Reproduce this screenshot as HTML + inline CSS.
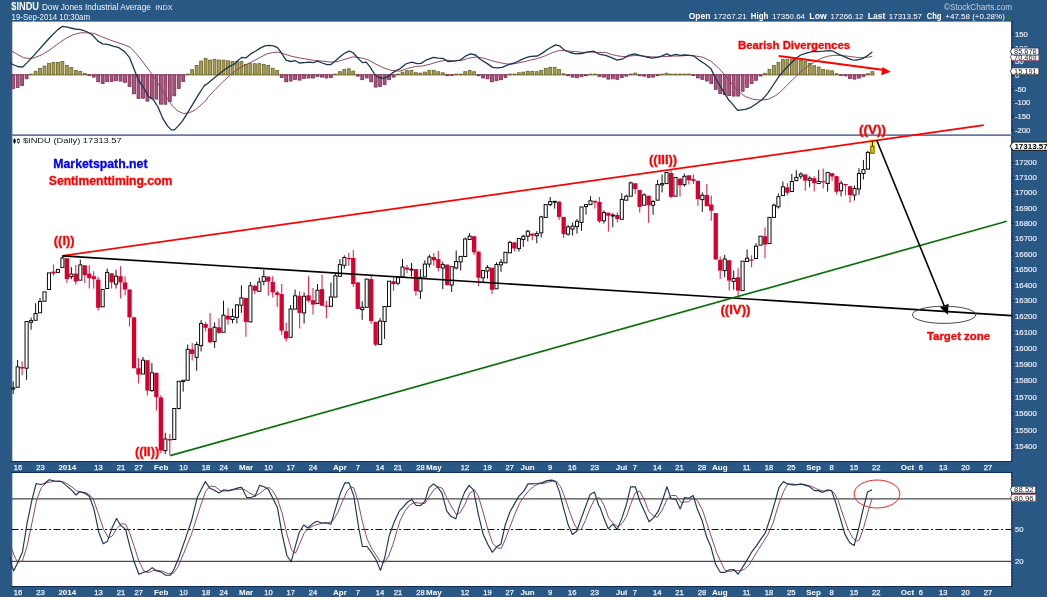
<!DOCTYPE html><html><head><meta charset="utf-8"><title>$INDU</title><style>html,body{margin:0;padding:0;background:#2a5885}svg{display:block;will-change:transform}text{font-family:"Liberation Sans",sans-serif}</style></head><body>
<svg width="1047" height="597" viewBox="0 0 1047 597">
<rect width="1047" height="597" fill="#2a5885"/>
<rect x="11.5" y="21" width="1000" height="440" fill="#fff"/>
<rect x="11.5" y="473" width="1000" height="113" fill="#fff"/>
<g stroke="#1b3c6c" stroke-width="1" fill="none">
<path d="M11.5 461.6H1012"/><path d="M11.5 472.4H1012"/><path d="M11.5 586.5H1012"/>
<path d="M1011.9 21V461.5"/><path d="M1011.9 472.5V586.5"/><path d="M11.8 21V461.5"/><path d="M11.8 472.5V586.5"/>
</g>
<g stroke="#0c1f4a" stroke-width="1" stroke-dasharray="2 1.2" fill="none" opacity="0.85">
<path d="M11.5 461.6H1012"/><path d="M11.5 472.4H1012"/><path d="M11.5 586.5H1012"/>
<path d="M1011.9 21V461.5"/><path d="M1011.9 472.5V586.5"/>
</g>
<path d="M11.5 21.3H1012" stroke="#203a66" stroke-width="1" opacity="0.7"/>
<path d="M11.5 135.2H1012" stroke="#68789e" stroke-width="1.7"/>
<text x="11.3" y="10.1" font-size="11" fill="#fff" font-weight="bold" textLength="27.7" lengthAdjust="spacingAndGlyphs">$INDU</text>
<text x="41.9" y="9.9" font-size="9.1" fill="#f0f4fa" textLength="109" lengthAdjust="spacingAndGlyphs">Dow Jones Industrial Average</text>
<text x="155.2" y="9.9" font-size="7.6" fill="#e6ecf5" textLength="17.5" lengthAdjust="spacingAndGlyphs">INDX</text>
<text x="11.6" y="19.6" font-size="8.5" fill="#f0f4fa" textLength="78.4" lengthAdjust="spacingAndGlyphs">19-Sep-2014 10:30am</text>
<text x="944" y="10" font-size="8.3" fill="#c3cfe0" textLength="68" lengthAdjust="spacingAndGlyphs">©StockCharts.com</text>
<text x="688.8" y="18.9" font-size="8.6" fill="#fff" font-weight="bold" textLength="21.5" lengthAdjust="spacingAndGlyphs">Open</text>
<text x="713.5" y="18.9" font-size="7.7" fill="#fff" textLength="33.1" lengthAdjust="spacingAndGlyphs">17267.21</text>
<text x="750.8" y="18.9" font-size="8.6" fill="#fff" font-weight="bold" textLength="17.5" lengthAdjust="spacingAndGlyphs">High</text>
<text x="771.9" y="18.9" font-size="7.7" fill="#fff" textLength="33.1" lengthAdjust="spacingAndGlyphs">17350.64</text>
<text x="809.3" y="18.9" font-size="8.6" fill="#fff" font-weight="bold" textLength="17.5" lengthAdjust="spacingAndGlyphs">Low</text>
<text x="830.4" y="18.9" font-size="7.7" fill="#fff" textLength="33.1" lengthAdjust="spacingAndGlyphs">17266.12</text>
<text x="867.7" y="18.9" font-size="8.6" fill="#fff" font-weight="bold" textLength="17.6" lengthAdjust="spacingAndGlyphs">Last</text>
<text x="888.8" y="18.9" font-size="7.7" fill="#fff" textLength="33.2" lengthAdjust="spacingAndGlyphs">17313.57</text>
<text x="926.8" y="18.9" font-size="8.6" fill="#fff" font-weight="bold" textLength="14.7" lengthAdjust="spacingAndGlyphs">Chg</text>
<text x="945.3" y="18.9" font-size="7.7" fill="#fff" textLength="59.5" lengthAdjust="spacingAndGlyphs">+47.58 (+0.28%)</text>
<path d="M1006.5 18.6L1009 14.8L1011.5 18.6Z" fill="#1e7a1e"/>
<path d="M1011.5 34.2H1013.5" stroke="#0c1f4a" stroke-width="1"/>
<text x="1015" y="37.0" font-size="7.7" fill="#e4eaf4" stroke="#e4eaf4" stroke-width="0.2">150</text>
<path d="M1011.5 47.9H1013.5" stroke="#0c1f4a" stroke-width="1"/>
<text x="1015" y="50.7" font-size="7.7" fill="#e4eaf4" stroke="#e4eaf4" stroke-width="0.2">100</text>
<path d="M1011.5 61.6H1013.5" stroke="#0c1f4a" stroke-width="1"/>
<text x="1015" y="64.4" font-size="7.7" fill="#e4eaf4" stroke="#e4eaf4" stroke-width="0.2">50</text>
<path d="M1011.5 75.2H1013.5" stroke="#0c1f4a" stroke-width="1"/>
<text x="1015" y="78.0" font-size="7.7" fill="#e4eaf4" stroke="#e4eaf4" stroke-width="0.2">0</text>
<path d="M1011.5 88.9H1013.5" stroke="#0c1f4a" stroke-width="1"/>
<text x="1015" y="91.7" font-size="7.7" fill="#e4eaf4" stroke="#e4eaf4" stroke-width="0.2">-50</text>
<path d="M1011.5 102.5H1013.5" stroke="#0c1f4a" stroke-width="1"/>
<text x="1015" y="105.3" font-size="7.7" fill="#e4eaf4" stroke="#e4eaf4" stroke-width="0.2">-100</text>
<path d="M1011.5 116.2H1013.5" stroke="#0c1f4a" stroke-width="1"/>
<text x="1015" y="119.0" font-size="7.7" fill="#e4eaf4" stroke="#e4eaf4" stroke-width="0.2">-150</text>
<path d="M1011.5 129.8H1013.5" stroke="#0c1f4a" stroke-width="1"/>
<text x="1015" y="132.6" font-size="7.7" fill="#e4eaf4" stroke="#e4eaf4" stroke-width="0.2">-200</text>
<path d="M1010.3 57.0L1012.3 53.5H1038.9V60.5H1012.3Z" fill="#fff" stroke="#a0506e" stroke-width="0.9"/>
<text x="1014.0999999999999" y="59.6" font-size="7.3" fill="#1a1a1a" textLength="22.6" lengthAdjust="spacingAndGlyphs">70.469</text>
<path d="M1010.3 51.5L1012.3 48.0H1038.9V55.0H1012.3Z" fill="#fff" stroke="#1a3654" stroke-width="0.9"/>
<text x="1014.0999999999999" y="54.1" font-size="7.3" fill="#1a1a1a" textLength="22.6" lengthAdjust="spacingAndGlyphs">85.676</text>
<path d="M1010.3 71.3L1012.3 67.8H1038.9V74.8H1012.3Z" fill="#fff" stroke="#333" stroke-width="0.9"/>
<text x="1014.0999999999999" y="73.9" font-size="7.3" fill="#1a1a1a" textLength="22.6" lengthAdjust="spacingAndGlyphs">15.191</text>
<path d="M1011.5 162.6H1013.5" stroke="#0c1f4a" stroke-width="1"/>
<text x="1015" y="165.4" font-size="7.7" fill="#e4eaf4" textLength="21.8" lengthAdjust="spacingAndGlyphs" stroke="#e4eaf4" stroke-width="0.2">17200</text>
<path d="M1011.5 177.6H1013.5" stroke="#0c1f4a" stroke-width="1"/>
<text x="1015" y="180.4" font-size="7.7" fill="#e4eaf4" textLength="21.8" lengthAdjust="spacingAndGlyphs" stroke="#e4eaf4" stroke-width="0.2">17100</text>
<path d="M1011.5 192.6H1013.5" stroke="#0c1f4a" stroke-width="1"/>
<text x="1015" y="195.4" font-size="7.7" fill="#e4eaf4" textLength="21.8" lengthAdjust="spacingAndGlyphs" stroke="#e4eaf4" stroke-width="0.2">17000</text>
<path d="M1011.5 207.8H1013.5" stroke="#0c1f4a" stroke-width="1"/>
<text x="1015" y="210.6" font-size="7.7" fill="#e4eaf4" textLength="21.8" lengthAdjust="spacingAndGlyphs" stroke="#e4eaf4" stroke-width="0.2">16900</text>
<path d="M1011.5 223.0H1013.5" stroke="#0c1f4a" stroke-width="1"/>
<text x="1015" y="225.8" font-size="7.7" fill="#e4eaf4" textLength="21.8" lengthAdjust="spacingAndGlyphs" stroke="#e4eaf4" stroke-width="0.2">16800</text>
<path d="M1011.5 238.3H1013.5" stroke="#0c1f4a" stroke-width="1"/>
<text x="1015" y="241.1" font-size="7.7" fill="#e4eaf4" textLength="21.8" lengthAdjust="spacingAndGlyphs" stroke="#e4eaf4" stroke-width="0.2">16700</text>
<path d="M1011.5 253.8H1013.5" stroke="#0c1f4a" stroke-width="1"/>
<text x="1015" y="256.6" font-size="7.7" fill="#e4eaf4" textLength="21.8" lengthAdjust="spacingAndGlyphs" stroke="#e4eaf4" stroke-width="0.2">16600</text>
<path d="M1011.5 269.3H1013.5" stroke="#0c1f4a" stroke-width="1"/>
<text x="1015" y="272.1" font-size="7.7" fill="#e4eaf4" textLength="21.8" lengthAdjust="spacingAndGlyphs" stroke="#e4eaf4" stroke-width="0.2">16500</text>
<path d="M1011.5 284.9H1013.5" stroke="#0c1f4a" stroke-width="1"/>
<text x="1015" y="287.7" font-size="7.7" fill="#e4eaf4" textLength="21.8" lengthAdjust="spacingAndGlyphs" stroke="#e4eaf4" stroke-width="0.2">16400</text>
<path d="M1011.5 300.6H1013.5" stroke="#0c1f4a" stroke-width="1"/>
<text x="1015" y="303.4" font-size="7.7" fill="#e4eaf4" textLength="21.8" lengthAdjust="spacingAndGlyphs" stroke="#e4eaf4" stroke-width="0.2">16300</text>
<path d="M1011.5 316.4H1013.5" stroke="#0c1f4a" stroke-width="1"/>
<text x="1015" y="319.2" font-size="7.7" fill="#e4eaf4" textLength="21.8" lengthAdjust="spacingAndGlyphs" stroke="#e4eaf4" stroke-width="0.2">16200</text>
<path d="M1011.5 332.3H1013.5" stroke="#0c1f4a" stroke-width="1"/>
<text x="1015" y="335.1" font-size="7.7" fill="#e4eaf4" textLength="21.8" lengthAdjust="spacingAndGlyphs" stroke="#e4eaf4" stroke-width="0.2">16100</text>
<path d="M1011.5 348.3H1013.5" stroke="#0c1f4a" stroke-width="1"/>
<text x="1015" y="351.1" font-size="7.7" fill="#e4eaf4" textLength="21.8" lengthAdjust="spacingAndGlyphs" stroke="#e4eaf4" stroke-width="0.2">16000</text>
<path d="M1011.5 364.4H1013.5" stroke="#0c1f4a" stroke-width="1"/>
<text x="1015" y="367.2" font-size="7.7" fill="#e4eaf4" textLength="21.8" lengthAdjust="spacingAndGlyphs" stroke="#e4eaf4" stroke-width="0.2">15900</text>
<path d="M1011.5 380.6H1013.5" stroke="#0c1f4a" stroke-width="1"/>
<text x="1015" y="383.4" font-size="7.7" fill="#e4eaf4" textLength="21.8" lengthAdjust="spacingAndGlyphs" stroke="#e4eaf4" stroke-width="0.2">15800</text>
<path d="M1011.5 396.9H1013.5" stroke="#0c1f4a" stroke-width="1"/>
<text x="1015" y="399.7" font-size="7.7" fill="#e4eaf4" textLength="21.8" lengthAdjust="spacingAndGlyphs" stroke="#e4eaf4" stroke-width="0.2">15700</text>
<path d="M1011.5 413.3H1013.5" stroke="#0c1f4a" stroke-width="1"/>
<text x="1015" y="416.1" font-size="7.7" fill="#e4eaf4" textLength="21.8" lengthAdjust="spacingAndGlyphs" stroke="#e4eaf4" stroke-width="0.2">15600</text>
<path d="M1011.5 429.8H1013.5" stroke="#0c1f4a" stroke-width="1"/>
<text x="1015" y="432.6" font-size="7.7" fill="#e4eaf4" textLength="21.8" lengthAdjust="spacingAndGlyphs" stroke="#e4eaf4" stroke-width="0.2">15500</text>
<path d="M1011.5 446.4H1013.5" stroke="#0c1f4a" stroke-width="1"/>
<text x="1015" y="449.2" font-size="7.7" fill="#e4eaf4" textLength="21.8" lengthAdjust="spacingAndGlyphs" stroke="#e4eaf4" stroke-width="0.2">15400</text>
<path d="M1010 146.2L1013 142H1048V150.3H1013Z" fill="#fff" stroke="#111" stroke-width="1"/>
<text x="1014.4" y="148.9" font-size="8" fill="#000" font-weight="bold">17313.57</text>
<text x="1015" y="532.3" font-size="7.7" fill="#e4eaf4" stroke="#e4eaf4" stroke-width="0.2">50</text>
<text x="1015" y="564.0999999999999" font-size="7.7" fill="#e4eaf4" stroke="#e4eaf4" stroke-width="0.2">20</text>
<path d="M1010.3 497.9L1012.3 494.4H1035.8V501.3H1012.3Z" fill="#fff" stroke="#a0506e" stroke-width="0.9"/>
<text x="1014.0999999999999" y="500.5" font-size="7.3" fill="#1a1a1a" textLength="19.5" lengthAdjust="spacingAndGlyphs">80.96</text>
<path d="M1010.3 489.7L1012.3 486.2H1035.8V493.1H1012.3Z" fill="#fff" stroke="#1a3654" stroke-width="0.9"/>
<text x="1014.0999999999999" y="492.3" font-size="7.3" fill="#1a1a1a" textLength="19.5" lengthAdjust="spacingAndGlyphs">88.52</text>
<g fill="#a59c55" stroke="#6a6426" stroke-width="0.8"><path d="M28.78 74.8h4.6" fill="none"/><rect x="29.63" y="74.1" width="2.9" height="0.7"/><path d="M33.25 74.8h4.6" fill="none"/><rect x="34.10" y="71.3" width="2.9" height="3.5"/><path d="M37.73 74.8h4.6" fill="none"/><rect x="38.58" y="68.4" width="2.9" height="6.4"/><path d="M42.20 74.8h4.6" fill="none"/><rect x="43.05" y="66.1" width="2.9" height="8.7"/><path d="M46.68 74.8h4.6" fill="none"/><rect x="47.53" y="63.3" width="2.9" height="11.5"/><path d="M51.15 74.8h4.6" fill="none"/><rect x="52.00" y="62.4" width="2.9" height="12.4"/><path d="M55.63 74.8h4.6" fill="none"/><rect x="56.48" y="62.4" width="2.9" height="12.4"/><path d="M60.10 74.8h4.6" fill="none"/><rect x="60.95" y="61.4" width="2.9" height="13.4"/><path d="M64.58 74.8h4.6" fill="none"/><rect x="65.43" y="65.4" width="2.9" height="9.4"/><path d="M69.05 74.8h4.6" fill="none"/><rect x="69.90" y="67.4" width="2.9" height="7.4"/><path d="M73.53 74.8h4.6" fill="none"/><rect x="74.38" y="70.4" width="2.9" height="4.4"/><path d="M78.00 74.8h4.6" fill="none"/><rect x="78.85" y="71.3" width="2.9" height="3.5"/><path d="M82.48 74.8h4.6" fill="none"/><rect x="83.33" y="73.5" width="2.9" height="1.3"/><path d="M185.40 74.8h4.6" fill="none"/><rect x="186.25" y="74.1" width="2.9" height="0.7"/><path d="M189.88 74.8h4.6" fill="none"/><rect x="190.73" y="69.7" width="2.9" height="5.1"/><path d="M194.35 74.8h4.6" fill="none"/><rect x="195.20" y="65.4" width="2.9" height="9.4"/><path d="M198.83 74.8h4.6" fill="none"/><rect x="199.68" y="61.0" width="2.9" height="13.8"/><path d="M203.30 74.8h4.6" fill="none"/><rect x="204.15" y="58.4" width="2.9" height="16.4"/><path d="M207.78 74.8h4.6" fill="none"/><rect x="208.63" y="60.1" width="2.9" height="14.7"/><path d="M212.25 74.8h4.6" fill="none"/><rect x="213.10" y="59.3" width="2.9" height="15.5"/><path d="M216.73 74.8h4.6" fill="none"/><rect x="217.58" y="60.1" width="2.9" height="14.7"/><path d="M221.20 74.8h4.6" fill="none"/><rect x="222.05" y="60.1" width="2.9" height="14.7"/><path d="M225.68 74.8h4.6" fill="none"/><rect x="226.53" y="60.8" width="2.9" height="14.0"/><path d="M230.15 74.8h4.6" fill="none"/><rect x="231.00" y="61.3" width="2.9" height="13.5"/><path d="M234.63 74.8h4.6" fill="none"/><rect x="235.48" y="61.7" width="2.9" height="13.1"/><path d="M239.11 74.8h4.6" fill="none"/><rect x="239.96" y="61.4" width="2.9" height="13.4"/><path d="M243.58 74.8h4.6" fill="none"/><rect x="244.43" y="64.4" width="2.9" height="10.4"/><path d="M248.06 74.8h4.6" fill="none"/><rect x="248.91" y="63.7" width="2.9" height="11.1"/><path d="M252.53 74.8h4.6" fill="none"/><rect x="253.38" y="63.7" width="2.9" height="11.1"/><path d="M257.01 74.8h4.6" fill="none"/><rect x="257.86" y="63.7" width="2.9" height="11.1"/><path d="M261.48 74.8h4.6" fill="none"/><rect x="262.33" y="64.4" width="2.9" height="10.4"/><path d="M265.96 74.8h4.6" fill="none"/><rect x="266.81" y="65.4" width="2.9" height="9.4"/><path d="M270.43 74.8h4.6" fill="none"/><rect x="271.28" y="68.2" width="2.9" height="6.6"/><path d="M274.91 74.8h4.6" fill="none"/><rect x="275.76" y="70.4" width="2.9" height="4.4"/><path d="M333.08 74.8h4.6" fill="none"/><rect x="333.93" y="74.1" width="2.9" height="0.7"/><path d="M337.56 74.8h4.6" fill="none"/><rect x="338.41" y="71.7" width="2.9" height="3.1"/><path d="M342.03 74.8h4.6" fill="none"/><rect x="342.88" y="69.5" width="2.9" height="5.3"/><path d="M346.51 74.8h4.6" fill="none"/><rect x="347.36" y="68.8" width="2.9" height="6.0"/><path d="M350.98 74.8h4.6" fill="none"/><rect x="351.83" y="71.1" width="2.9" height="3.7"/><path d="M395.73 74.8h4.6" fill="none"/><rect x="396.58" y="74.1" width="2.9" height="0.7"/><path d="M400.21 74.8h4.6" fill="none"/><rect x="401.06" y="72.1" width="2.9" height="2.7"/><path d="M404.68 74.8h4.6" fill="none"/><rect x="405.53" y="70.7" width="2.9" height="4.1"/><path d="M409.16 74.8h4.6" fill="none"/><rect x="410.01" y="70.4" width="2.9" height="4.4"/><path d="M413.63 74.8h4.6" fill="none"/><rect x="414.48" y="72.7" width="2.9" height="2.1"/><path d="M418.11 74.8h4.6" fill="none"/><rect x="418.96" y="73.1" width="2.9" height="1.7"/><path d="M422.58 74.8h4.6" fill="none"/><rect x="423.43" y="72.1" width="2.9" height="2.7"/><path d="M427.06 74.8h4.6" fill="none"/><rect x="427.91" y="70.4" width="2.9" height="4.4"/><path d="M431.53 74.8h4.6" fill="none"/><rect x="432.38" y="70.4" width="2.9" height="4.4"/><path d="M436.01 74.8h4.6" fill="none"/><rect x="436.86" y="71.7" width="2.9" height="3.1"/><path d="M440.48 74.8h4.6" fill="none"/><rect x="441.33" y="72.8" width="2.9" height="2.0"/><path d="M453.91 74.8h4.6" fill="none"/><rect x="454.76" y="74.1" width="2.9" height="0.7"/><path d="M458.38 74.8h4.6" fill="none"/><rect x="459.23" y="74.1" width="2.9" height="0.7"/><path d="M462.86 74.8h4.6" fill="none"/><rect x="463.71" y="71.7" width="2.9" height="3.1"/><path d="M467.34 74.8h4.6" fill="none"/><rect x="468.19" y="70.4" width="2.9" height="4.4"/><path d="M471.81 74.8h4.6" fill="none"/><rect x="472.66" y="71.7" width="2.9" height="3.1"/><path d="M507.61 74.8h4.6" fill="none"/><rect x="508.46" y="74.1" width="2.9" height="0.7"/><path d="M512.09 74.8h4.6" fill="none"/><rect x="512.94" y="74.1" width="2.9" height="0.7"/><path d="M516.56 74.8h4.6" fill="none"/><rect x="517.41" y="72.8" width="2.9" height="2.0"/><path d="M521.04 74.8h4.6" fill="none"/><rect x="521.89" y="72.1" width="2.9" height="2.7"/><path d="M525.51 74.8h4.6" fill="none"/><rect x="526.36" y="71.3" width="2.9" height="3.5"/><path d="M529.99 74.8h4.6" fill="none"/><rect x="530.84" y="71.3" width="2.9" height="3.5"/><path d="M534.46 74.8h4.6" fill="none"/><rect x="535.31" y="71.7" width="2.9" height="3.1"/><path d="M538.94 74.8h4.6" fill="none"/><rect x="539.79" y="70.4" width="2.9" height="4.4"/><path d="M543.41 74.8h4.6" fill="none"/><rect x="544.26" y="68.4" width="2.9" height="6.4"/><path d="M547.89 74.8h4.6" fill="none"/><rect x="548.74" y="67.3" width="2.9" height="7.5"/><path d="M552.36 74.8h4.6" fill="none"/><rect x="553.21" y="67.3" width="2.9" height="7.5"/><path d="M556.84 74.8h4.6" fill="none"/><rect x="557.69" y="69.5" width="2.9" height="5.3"/><path d="M561.31 74.8h4.6" fill="none"/><rect x="562.16" y="73.7" width="2.9" height="1.1"/><path d="M588.16 74.8h4.6" fill="none"/><rect x="589.01" y="74.1" width="2.9" height="0.7"/><path d="M592.64 74.8h4.6" fill="none"/><rect x="593.49" y="74.1" width="2.9" height="0.7"/><path d="M628.44 74.8h4.6" fill="none"/><rect x="629.29" y="74.0" width="2.9" height="0.8"/><path d="M632.91 74.8h4.6" fill="none"/><rect x="633.76" y="73.1" width="2.9" height="1.7"/><path d="M659.76 74.8h4.6" fill="none"/><rect x="660.61" y="74.1" width="2.9" height="0.7"/><path d="M664.24 74.8h4.6" fill="none"/><rect x="665.09" y="73.2" width="2.9" height="1.6"/><path d="M668.71 74.8h4.6" fill="none"/><rect x="669.56" y="74.1" width="2.9" height="0.7"/><path d="M673.19 74.8h4.6" fill="none"/><rect x="674.04" y="74.1" width="2.9" height="0.7"/><path d="M677.66 74.8h4.6" fill="none"/><rect x="678.51" y="74.1" width="2.9" height="0.7"/><path d="M682.14 74.8h4.6" fill="none"/><rect x="682.99" y="74.1" width="2.9" height="0.7"/><path d="M686.62 74.8h4.6" fill="none"/><rect x="687.47" y="74.1" width="2.9" height="0.7"/><path d="M762.69 74.8h4.6" fill="none"/><rect x="763.54" y="73.3" width="2.9" height="1.5"/><path d="M767.17 74.8h4.6" fill="none"/><rect x="768.02" y="69.3" width="2.9" height="5.5"/><path d="M771.64 74.8h4.6" fill="none"/><rect x="772.49" y="65.6" width="2.9" height="9.2"/><path d="M776.12 74.8h4.6" fill="none"/><rect x="776.97" y="62.4" width="2.9" height="12.4"/><path d="M780.59 74.8h4.6" fill="none"/><rect x="781.44" y="59.6" width="2.9" height="15.2"/><path d="M785.07 74.8h4.6" fill="none"/><rect x="785.92" y="59.6" width="2.9" height="15.2"/><path d="M789.54 74.8h4.6" fill="none"/><rect x="790.39" y="59.6" width="2.9" height="15.2"/><path d="M794.02 74.8h4.6" fill="none"/><rect x="794.87" y="59.7" width="2.9" height="15.1"/><path d="M798.49 74.8h4.6" fill="none"/><rect x="799.34" y="60.4" width="2.9" height="14.4"/><path d="M802.97 74.8h4.6" fill="none"/><rect x="803.82" y="61.2" width="2.9" height="13.6"/><path d="M807.44 74.8h4.6" fill="none"/><rect x="808.29" y="63.4" width="2.9" height="11.4"/><path d="M811.92 74.8h4.6" fill="none"/><rect x="812.77" y="65.7" width="2.9" height="9.1"/><path d="M816.39 74.8h4.6" fill="none"/><rect x="817.24" y="67.0" width="2.9" height="7.8"/><path d="M820.87 74.8h4.6" fill="none"/><rect x="821.72" y="69.5" width="2.9" height="5.3"/><path d="M825.34 74.8h4.6" fill="none"/><rect x="826.19" y="70.1" width="2.9" height="4.7"/><path d="M829.82 74.8h4.6" fill="none"/><rect x="830.67" y="70.8" width="2.9" height="4.0"/><path d="M834.29 74.8h4.6" fill="none"/><rect x="835.14" y="73.7" width="2.9" height="1.1"/><path d="M865.62 74.8h4.6" fill="none"/><rect x="866.47" y="73.7" width="2.9" height="1.1"/><path d="M870.09 74.8h4.6" fill="none"/><rect x="870.94" y="71.7" width="2.9" height="3.1"/></g>
<g fill="#a8577c" stroke="#7a2a50" stroke-width="0.8"><path d="M10.87 74.8h4.6" fill="none"/><rect x="11.72" y="74.8" width="2.9" height="13.6"/><path d="M15.35 74.8h4.6" fill="none"/><rect x="16.20" y="74.8" width="2.9" height="12.6"/><path d="M19.83 74.8h4.6" fill="none"/><rect x="20.68" y="74.8" width="2.9" height="10.7"/><path d="M24.30 74.8h4.6" fill="none"/><rect x="25.15" y="74.8" width="2.9" height="4.0"/><path d="M86.95 74.8h4.6" fill="none"/><rect x="87.80" y="74.8" width="2.9" height="0.7"/><path d="M91.43 74.8h4.6" fill="none"/><rect x="92.28" y="74.8" width="2.9" height="2.3"/><path d="M95.90 74.8h4.6" fill="none"/><rect x="96.75" y="74.8" width="2.9" height="7.0"/><path d="M100.38 74.8h4.6" fill="none"/><rect x="101.23" y="74.8" width="2.9" height="8.7"/><path d="M104.85 74.8h4.6" fill="none"/><rect x="105.70" y="74.8" width="2.9" height="6.7"/><path d="M109.33 74.8h4.6" fill="none"/><rect x="110.18" y="74.8" width="2.9" height="6.7"/><path d="M113.80 74.8h4.6" fill="none"/><rect x="114.65" y="74.8" width="2.9" height="5.9"/><path d="M118.28 74.8h4.6" fill="none"/><rect x="119.13" y="74.8" width="2.9" height="6.3"/><path d="M122.75 74.8h4.6" fill="none"/><rect x="123.60" y="74.8" width="2.9" height="7.6"/><path d="M127.23 74.8h4.6" fill="none"/><rect x="128.08" y="74.8" width="2.9" height="11.6"/><path d="M131.70 74.8h4.6" fill="none"/><rect x="132.55" y="74.8" width="2.9" height="19.0"/><path d="M136.18 74.8h4.6" fill="none"/><rect x="137.03" y="74.8" width="2.9" height="23.7"/><path d="M140.65 74.8h4.6" fill="none"/><rect x="141.50" y="74.8" width="2.9" height="23.4"/><path d="M145.13 74.8h4.6" fill="none"/><rect x="145.98" y="74.8" width="2.9" height="26.3"/><path d="M149.60 74.8h4.6" fill="none"/><rect x="150.45" y="74.8" width="2.9" height="23.7"/><path d="M154.08 74.8h4.6" fill="none"/><rect x="154.93" y="74.8" width="2.9" height="24.3"/><path d="M158.55 74.8h4.6" fill="none"/><rect x="159.40" y="74.8" width="2.9" height="29.4"/><path d="M163.03 74.8h4.6" fill="none"/><rect x="163.88" y="74.8" width="2.9" height="29.4"/><path d="M167.50 74.8h4.6" fill="none"/><rect x="168.35" y="74.8" width="2.9" height="26.7"/><path d="M171.98 74.8h4.6" fill="none"/><rect x="172.83" y="74.8" width="2.9" height="21.0"/><path d="M176.45 74.8h4.6" fill="none"/><rect x="177.30" y="74.8" width="2.9" height="13.6"/><path d="M180.93 74.8h4.6" fill="none"/><rect x="181.78" y="74.8" width="2.9" height="6.7"/><path d="M279.38 74.8h4.6" fill="none"/><rect x="280.23" y="74.8" width="2.9" height="2.7"/><path d="M283.86 74.8h4.6" fill="none"/><rect x="284.71" y="74.8" width="2.9" height="7.0"/><path d="M288.33 74.8h4.6" fill="none"/><rect x="289.18" y="74.8" width="2.9" height="6.3"/><path d="M292.81 74.8h4.6" fill="none"/><rect x="293.66" y="74.8" width="2.9" height="4.7"/><path d="M297.28 74.8h4.6" fill="none"/><rect x="298.13" y="74.8" width="2.9" height="5.3"/><path d="M301.76 74.8h4.6" fill="none"/><rect x="302.61" y="74.8" width="2.9" height="3.6"/><path d="M306.23 74.8h4.6" fill="none"/><rect x="307.08" y="74.8" width="2.9" height="3.2"/><path d="M310.71 74.8h4.6" fill="none"/><rect x="311.56" y="74.8" width="2.9" height="3.2"/><path d="M315.18 74.8h4.6" fill="none"/><rect x="316.03" y="74.8" width="2.9" height="1.6"/><path d="M319.66 74.8h4.6" fill="none"/><rect x="320.51" y="74.8" width="2.9" height="2.3"/><path d="M324.13 74.8h4.6" fill="none"/><rect x="324.98" y="74.8" width="2.9" height="3.2"/><path d="M328.61 74.8h4.6" fill="none"/><rect x="329.46" y="74.8" width="2.9" height="2.7"/><path d="M355.46 74.8h4.6" fill="none"/><rect x="356.31" y="74.8" width="2.9" height="1.3"/><path d="M359.93 74.8h4.6" fill="none"/><rect x="360.78" y="74.8" width="2.9" height="4.9"/><path d="M364.41 74.8h4.6" fill="none"/><rect x="365.26" y="74.8" width="2.9" height="3.2"/><path d="M368.88 74.8h4.6" fill="none"/><rect x="369.73" y="74.8" width="2.9" height="7.0"/><path d="M373.36 74.8h4.6" fill="none"/><rect x="374.21" y="74.8" width="2.9" height="12.3"/><path d="M377.83 74.8h4.6" fill="none"/><rect x="378.68" y="74.8" width="2.9" height="11.6"/><path d="M382.31 74.8h4.6" fill="none"/><rect x="383.16" y="74.8" width="2.9" height="9.6"/><path d="M386.78 74.8h4.6" fill="none"/><rect x="387.63" y="74.8" width="2.9" height="4.9"/><path d="M391.26 74.8h4.6" fill="none"/><rect x="392.11" y="74.8" width="2.9" height="2.3"/><path d="M444.96 74.8h4.6" fill="none"/><rect x="445.81" y="74.8" width="2.9" height="0.9"/><path d="M449.43 74.8h4.6" fill="none"/><rect x="450.28" y="74.8" width="2.9" height="0.7"/><path d="M476.29 74.8h4.6" fill="none"/><rect x="477.14" y="74.8" width="2.9" height="0.9"/><path d="M480.76 74.8h4.6" fill="none"/><rect x="481.61" y="74.8" width="2.9" height="3.2"/><path d="M485.24 74.8h4.6" fill="none"/><rect x="486.09" y="74.8" width="2.9" height="4.0"/><path d="M489.71 74.8h4.6" fill="none"/><rect x="490.56" y="74.8" width="2.9" height="7.0"/><path d="M494.19 74.8h4.6" fill="none"/><rect x="495.04" y="74.8" width="2.9" height="5.9"/><path d="M498.66 74.8h4.6" fill="none"/><rect x="499.51" y="74.8" width="2.9" height="4.9"/><path d="M503.14 74.8h4.6" fill="none"/><rect x="503.99" y="74.8" width="2.9" height="2.7"/><path d="M565.79 74.8h4.6" fill="none"/><rect x="566.64" y="74.8" width="2.9" height="0.9"/><path d="M570.26 74.8h4.6" fill="none"/><rect x="571.11" y="74.8" width="2.9" height="2.3"/><path d="M574.74 74.8h4.6" fill="none"/><rect x="575.59" y="74.8" width="2.9" height="2.9"/><path d="M579.21 74.8h4.6" fill="none"/><rect x="580.06" y="74.8" width="2.9" height="1.9"/><path d="M583.69 74.8h4.6" fill="none"/><rect x="584.54" y="74.8" width="2.9" height="0.9"/><path d="M597.11 74.8h4.6" fill="none"/><rect x="597.96" y="74.8" width="2.9" height="1.6"/><path d="M601.59 74.8h4.6" fill="none"/><rect x="602.44" y="74.8" width="2.9" height="2.3"/><path d="M606.06 74.8h4.6" fill="none"/><rect x="606.91" y="74.8" width="2.9" height="4.3"/><path d="M610.54 74.8h4.6" fill="none"/><rect x="611.39" y="74.8" width="2.9" height="4.0"/><path d="M615.01 74.8h4.6" fill="none"/><rect x="615.86" y="74.8" width="2.9" height="4.5"/><path d="M619.49 74.8h4.6" fill="none"/><rect x="620.34" y="74.8" width="2.9" height="2.7"/><path d="M623.96 74.8h4.6" fill="none"/><rect x="624.81" y="74.8" width="2.9" height="1.3"/><path d="M637.39 74.8h4.6" fill="none"/><rect x="638.24" y="74.8" width="2.9" height="0.9"/><path d="M641.86 74.8h4.6" fill="none"/><rect x="642.71" y="74.8" width="2.9" height="1.3"/><path d="M646.34 74.8h4.6" fill="none"/><rect x="647.19" y="74.8" width="2.9" height="2.7"/><path d="M650.81 74.8h4.6" fill="none"/><rect x="651.66" y="74.8" width="2.9" height="2.3"/><path d="M655.29 74.8h4.6" fill="none"/><rect x="656.14" y="74.8" width="2.9" height="0.9"/><path d="M691.09 74.8h4.6" fill="none"/><rect x="691.94" y="74.8" width="2.9" height="0.8"/><path d="M695.57 74.8h4.6" fill="none"/><rect x="696.42" y="74.8" width="2.9" height="3.1"/><path d="M700.04 74.8h4.6" fill="none"/><rect x="700.89" y="74.8" width="2.9" height="4.5"/><path d="M704.52 74.8h4.6" fill="none"/><rect x="705.37" y="74.8" width="2.9" height="6.2"/><path d="M708.99 74.8h4.6" fill="none"/><rect x="709.84" y="74.8" width="2.9" height="8.6"/><path d="M713.47 74.8h4.6" fill="none"/><rect x="714.32" y="74.8" width="2.9" height="14.6"/><path d="M717.94 74.8h4.6" fill="none"/><rect x="718.79" y="74.8" width="2.9" height="18.9"/><path d="M722.42 74.8h4.6" fill="none"/><rect x="723.27" y="74.8" width="2.9" height="19.9"/><path d="M726.89 74.8h4.6" fill="none"/><rect x="727.74" y="74.8" width="2.9" height="20.9"/><path d="M731.37 74.8h4.6" fill="none"/><rect x="732.22" y="74.8" width="2.9" height="21.3"/><path d="M735.84 74.8h4.6" fill="none"/><rect x="736.69" y="74.8" width="2.9" height="21.3"/><path d="M740.32 74.8h4.6" fill="none"/><rect x="741.17" y="74.8" width="2.9" height="16.4"/><path d="M744.79 74.8h4.6" fill="none"/><rect x="745.64" y="74.8" width="2.9" height="12.6"/><path d="M749.27 74.8h4.6" fill="none"/><rect x="750.12" y="74.8" width="2.9" height="8.8"/><path d="M753.74 74.8h4.6" fill="none"/><rect x="754.59" y="74.8" width="2.9" height="5.5"/><path d="M758.22 74.8h4.6" fill="none"/><rect x="759.07" y="74.8" width="2.9" height="1.2"/><path d="M838.77 74.8h4.6" fill="none"/><rect x="839.62" y="74.8" width="2.9" height="0.7"/><path d="M843.24 74.8h4.6" fill="none"/><rect x="844.09" y="74.8" width="2.9" height="1.1"/><path d="M847.72 74.8h4.6" fill="none"/><rect x="848.57" y="74.8" width="2.9" height="3.7"/><path d="M852.19 74.8h4.6" fill="none"/><rect x="853.04" y="74.8" width="2.9" height="4.3"/><path d="M856.67 74.8h4.6" fill="none"/><rect x="857.52" y="74.8" width="2.9" height="3.3"/><path d="M861.14 74.8h4.6" fill="none"/><rect x="861.99" y="74.8" width="2.9" height="1.6"/></g>
<polyline fill="none" stroke="#8c3f58" stroke-width="0.95" stroke-linejoin="round" points="10.0,49.7 11.9,51.2 17.6,54.4 23.4,57.7 29.1,58.4 34.8,57.7 42.5,54.4 50.1,49.7 57.8,43.9 65.4,38.6 73.0,34.8 80.7,32.8 88.3,32.8 94.0,33.4 101.7,36.7 109.3,39.7 117.0,42.4 124.6,44.9 130.3,47.4 136.1,53.5 143.7,63.0 151.4,73.5 159.0,85.0 166.6,97.4 172.4,106.0 178.1,111.2 183.8,113.6 189.6,112.7 195.3,109.8 201.0,105.0 206.8,99.7 207.6,97.4 215.3,89.4 222.9,81.7 230.6,74.9 238.2,68.8 245.8,64.6 253.5,61.1 261.1,56.9 266.9,53.9 272.6,52.5 278.3,52.1 284.0,53.9 291.7,56.3 299.3,57.9 307.0,59.2 314.6,60.5 322.3,61.1 329.9,62.1 337.5,61.5 345.2,59.2 352.8,56.9 360.5,57.7 368.1,59.8 375.7,64.0 383.4,67.8 391.0,70.3 397.7,71.0 400.0,71.0 407.6,68.4 415.3,66.5 422.9,65.9 430.6,64.0 438.2,61.7 445.8,60.2 453.5,60.7 461.1,60.5 468.8,58.2 476.4,56.9 484.0,58.2 491.7,60.7 499.3,62.6 507.0,64.0 514.6,63.6 522.3,62.1 529.9,60.2 537.5,58.6 545.2,55.8 552.8,52.5 558.5,50.6 564.3,50.6 570.0,51.2 575.7,51.6 583.4,52.5 591.0,52.1 600.0,52.5 605.7,52.5 611.5,54.4 617.2,55.8 622.9,56.5 628.7,56.3 634.4,55.4 640.1,55.8 645.8,56.3 651.6,56.9 657.3,56.9 664.9,56.5 672.6,56.1 680.2,56.0 687.9,55.4 695.5,56.0 703.2,57.3 710.8,61.1 718.4,67.8 726.1,76.4 730.0,81.7 737.6,90.7 745.3,96.5 752.9,99.3 760.6,100.1 768.2,99.3 775.8,95.5 781.6,90.7 787.3,85.0 793.0,79.3 798.8,73.5 804.5,68.8 810.2,64.6 816.0,61.1 821.7,58.2 827.4,56.3 833.2,55.4 838.9,55.4 844.6,55.8 850.3,56.5 856.1,57.3 861.8,57.7 867.5,57.3 872.3,56.3"/>
<polyline fill="none" stroke="#1a3654" stroke-width="1.3" stroke-linejoin="round" points="10.0,62.1 11.9,64.0 17.6,66.5 22.4,67.2 27.2,62.6 34.8,54.4 42.5,45.8 50.1,37.2 57.8,29.6 62.5,26.3 67.3,27.1 74.9,29.0 80.7,29.6 86.4,31.5 92.1,34.8 97.9,41.1 102.6,43.9 107.4,44.3 113.2,46.2 118.9,47.7 124.6,51.6 129.4,57.3 133.2,66.8 138.0,79.3 143.7,87.9 148.5,96.5 153.3,99.7 158.0,107.0 162.8,118.4 167.6,126.1 171.4,129.9 174.3,129.9 178.1,126.1 182.9,120.3 187.7,112.7 193.4,103.1 199.1,93.6 204.8,85.0 205.7,85.0 211.5,80.2 217.2,75.4 222.9,71.0 228.7,66.8 234.4,64.0 238.2,60.2 242.0,57.3 245.8,57.9 250.6,53.9 255.4,51.2 260.2,48.1 264.9,45.8 268.8,45.3 273.5,45.8 277.4,47.7 281.2,52.5 286.0,60.2 290.7,61.5 295.5,60.7 299.3,63.0 304.1,62.6 308.9,62.1 313.7,62.6 317.5,61.1 322.3,63.0 327.0,64.6 330.9,64.6 334.7,61.5 339.4,57.3 344.2,53.5 349.0,51.2 352.8,52.5 357.6,57.7 362.4,62.6 366.2,62.1 370.0,66.8 374.8,74.5 378.6,77.4 383.4,78.3 388.2,76.4 392.9,72.6 397.7,69.7 400.0,68.8 405.7,64.0 411.5,62.1 417.2,63.6 421.0,63.4 426.7,59.8 433.4,57.3 438.2,58.2 443.0,58.4 447.8,61.5 453.5,61.1 460.2,60.2 465.9,55.8 470.7,53.9 475.5,55.0 480.2,59.2 486.9,63.4 492.6,67.4 497.4,67.8 502.2,67.4 507.9,64.9 514.6,63.0 520.3,60.2 526.1,57.7 530.9,56.3 537.5,56.0 542.3,53.1 547.1,49.7 551.9,46.8 555.7,44.9 559.5,45.8 564.3,50.0 570.0,52.5 575.7,53.9 581.5,53.5 588.2,51.9 593.9,51.2 597.7,53.5 600.0,54.4 605.7,55.4 611.5,57.7 617.2,60.2 622.9,58.8 628.7,55.4 634.4,53.9 640.1,55.4 645.8,56.9 651.6,58.2 657.3,57.3 662.1,55.8 666.9,53.9 670.7,55.8 675.5,54.4 680.2,55.4 685.0,55.0 689.8,55.4 693.6,55.8 699.3,60.2 705.1,64.0 710.8,68.4 714.6,76.4 719.4,85.0 724.2,92.6 728.9,100.3 730.0,101.2 737.6,110.4 745.3,109.3 751.0,107.3 756.7,103.5 762.5,99.3 768.2,92.6 773.9,84.0 779.7,75.4 785.4,68.8 791.1,63.0 795.9,58.2 800.7,55.0 806.4,53.1 812.1,51.6 817.9,51.6 823.6,51.2 829.3,50.6 833.2,51.2 837.9,53.9 842.7,55.8 847.5,58.2 852.3,59.8 856.1,60.2 861.8,58.8 866.6,56.3 872.3,51.9"/>
<rect x="870.2" y="140" width="4.4" height="13.4" fill="#ffee33" stroke="#ffe600" stroke-width="1"/>
<path d="M22.1 361.5V375.2M53.5 264.6V275.7M66.9 258.3V282.9M75.8 264.9V284.6M84.8 265.3V282.9M89.3 265.3V288.5M93.7 271.3V288.5M98.2 276.9V310.6M111.6 273.3V288.5M120.6 266.3V298.5M125.1 276.6V295.2M129.5 289.5V326.4M134.0 317.3V368.2M138.5 357.9V383.5M147.4 360.2V395.6M156.4 372.8V410.6M160.9 395.2V453.1M169.8 434.0V455.6M192.2 343.1V360.6M205.6 321.9V331.5M210.1 312.9V343.1M219.0 318.2V334.0M228.0 308.2V324.8M245.9 297.9V336.8M254.8 284.6V294.1M268.3 276.6V295.8M272.7 276.3V297.4M277.2 290.8V306.9M281.7 284.1V335.1M286.2 322.4V341.5M299.6 291.3V328.5M308.5 276.3V302.4M313.0 287.9V314.5M322.0 274.7V305.7M326.4 300.7V318.2M348.8 253.0V265.8M353.3 250.0V286.9M357.8 282.4V309.0M371.2 275.8V324.0M375.7 321.8V346.1M393.6 277.4V290.7M407.0 265.0V273.3M415.9 269.1V295.7M433.8 253.0V265.8M438.3 250.8V271.6M447.3 264.6V285.2M474.1 236.2V255.2M478.6 250.7V286.0M492.0 267.7V294.0M514.4 242.4V251.5M532.3 233.6V240.2M559.1 201.6V219.9M563.6 216.9V237.9M594.9 200.8V208.6M599.4 197.0V222.9M608.4 212.7V231.8M617.3 212.2V222.6M635.2 183.3V194.1M639.7 189.9V212.4M648.6 195.7V222.8M671.0 170.3V198.2M680.0 178.6V196.6M688.9 175.3V184.6M693.4 174.6V184.1M697.9 180.8V205.7M706.8 184.1V206.2M711.3 195.7V220.7M715.8 213.1V259.5M720.2 256.5V279.0M729.2 260.2V290.6M738.1 268.2V296.4M751.6 255.2V267.3M765.0 227.4V258.2M787.4 183.2V195.6M805.3 174.5V190.7M814.2 176.2V191.5M823.2 168.6V188.5M832.1 173.2V180.7M836.6 176.2V194.5M845.5 184.0V195.6M850.0 186.2V202.8" stroke="#dd2a55" stroke-width="1.1" fill="none"/>
<g fill="#d9002f"><rect x="20.0" y="367.0" width="4.3" height="1.5"/><rect x="51.3" y="271.6" width="4.3" height="2.0"/><rect x="64.7" y="258.3" width="4.3" height="20.8"/><rect x="73.7" y="273.6" width="4.3" height="8.0"/><rect x="82.6" y="265.3" width="4.3" height="9.9"/><rect x="87.1" y="273.6" width="4.3" height="4.6"/><rect x="91.6" y="276.2" width="4.3" height="2.9"/><rect x="96.1" y="279.6" width="4.3" height="28.2"/><rect x="109.5" y="273.3" width="4.3" height="9.1"/><rect x="118.4" y="276.2" width="4.3" height="6.2"/><rect x="122.9" y="282.4" width="4.3" height="7.1"/><rect x="127.4" y="289.5" width="4.3" height="27.8"/><rect x="131.9" y="317.3" width="4.3" height="50.9"/><rect x="136.3" y="368.2" width="4.3" height="6.3"/><rect x="145.3" y="360.2" width="4.3" height="30.4"/><rect x="154.2" y="372.8" width="4.3" height="24.5"/><rect x="158.7" y="397.4" width="4.3" height="53.2"/><rect x="167.7" y="439.0" width="4.3" height="1.5"/><rect x="190.0" y="349.4" width="4.3" height="4.5"/><rect x="203.5" y="324.0" width="4.3" height="3.8"/><rect x="207.9" y="328.2" width="4.3" height="14.1"/><rect x="216.9" y="327.3" width="4.3" height="5.5"/><rect x="225.8" y="315.7" width="4.3" height="3.8"/><rect x="243.7" y="297.9" width="4.3" height="24.0"/><rect x="252.7" y="285.8" width="4.3" height="5.0"/><rect x="266.1" y="276.6" width="4.3" height="5.0"/><rect x="270.6" y="282.0" width="4.3" height="10.4"/><rect x="275.1" y="292.4" width="4.3" height="2.5"/><rect x="279.5" y="294.1" width="4.3" height="36.6"/><rect x="284.0" y="331.2" width="4.3" height="7.3"/><rect x="297.4" y="295.8" width="4.3" height="17.1"/><rect x="306.4" y="295.3" width="4.3" height="5.4"/><rect x="310.9" y="300.2" width="4.3" height="4.4"/><rect x="319.8" y="289.1" width="4.3" height="16.6"/><rect x="324.3" y="305.7" width="4.3" height="1.0"/><rect x="346.7" y="258.0" width="4.3" height="1.1"/><rect x="351.1" y="258.0" width="4.3" height="26.1"/><rect x="355.6" y="282.4" width="4.3" height="26.6"/><rect x="369.0" y="279.1" width="4.3" height="42.0"/><rect x="373.5" y="321.8" width="4.3" height="22.9"/><rect x="391.4" y="281.2" width="4.3" height="2.9"/><rect x="404.8" y="267.5" width="4.3" height="2.1"/><rect x="413.8" y="269.1" width="4.3" height="22.1"/><rect x="431.7" y="257.0" width="4.3" height="3.3"/><rect x="436.2" y="259.1" width="4.3" height="8.9"/><rect x="445.1" y="264.6" width="4.3" height="20.6"/><rect x="472.0" y="236.2" width="4.3" height="16.1"/><rect x="476.4" y="251.8" width="4.3" height="26.0"/><rect x="489.9" y="267.7" width="4.3" height="22.1"/><rect x="512.2" y="242.4" width="4.3" height="6.1"/><rect x="530.1" y="233.6" width="4.3" height="2.1"/><rect x="557.0" y="201.6" width="4.3" height="15.3"/><rect x="561.5" y="216.9" width="4.3" height="17.2"/><rect x="592.8" y="200.8" width="4.3" height="1.7"/><rect x="597.3" y="202.0" width="4.3" height="19.3"/><rect x="606.2" y="212.7" width="4.3" height="3.0"/><rect x="615.2" y="215.0" width="4.3" height="4.0"/><rect x="633.1" y="183.3" width="4.3" height="5.8"/><rect x="637.5" y="189.9" width="4.3" height="17.0"/><rect x="646.5" y="195.7" width="4.3" height="9.5"/><rect x="668.9" y="173.0" width="4.3" height="23.9"/><rect x="677.8" y="178.6" width="4.3" height="6.7"/><rect x="686.8" y="175.3" width="4.3" height="5.0"/><rect x="691.2" y="179.1" width="4.3" height="1.7"/><rect x="695.7" y="180.8" width="4.3" height="18.3"/><rect x="704.7" y="194.9" width="4.3" height="11.3"/><rect x="709.1" y="204.5" width="4.3" height="6.2"/><rect x="713.6" y="213.1" width="4.3" height="46.4"/><rect x="718.1" y="259.8" width="4.3" height="10.8"/><rect x="727.0" y="260.2" width="4.3" height="20.4"/><rect x="736.0" y="277.3" width="4.3" height="13.3"/><rect x="749.4" y="259.5" width="4.3" height="1.2"/><rect x="762.8" y="236.2" width="4.3" height="8.4"/><rect x="785.2" y="187.3" width="4.3" height="5.5"/><rect x="803.1" y="174.5" width="4.3" height="6.2"/><rect x="812.1" y="178.2" width="4.3" height="5.0"/><rect x="821.0" y="181.2" width="4.3" height="1.2"/><rect x="830.0" y="173.2" width="4.3" height="3.3"/><rect x="834.4" y="176.2" width="4.3" height="15.6"/><rect x="843.4" y="184.0" width="4.3" height="1.2"/><rect x="847.9" y="186.2" width="4.3" height="8.9"/></g>
<path d="M13.2 381.5V387.8M13.2 389.0V394.0M17.6 359.9V366.9M26.6 368.2V379.8M31.1 317.6V320.6M31.1 322.3V329.8M35.6 303.2V313.5M40.0 297.9V301.5M62.4 255.8V258.0M71.4 267.1V274.0M71.4 276.6V279.1M80.3 259.6V264.9M107.2 268.6V272.4M116.1 269.9V276.2M116.1 284.1V288.5M143.0 356.9V360.2M151.9 363.2V372.8M151.9 390.6V391.8M165.3 432.8V439.0M165.3 450.6V453.9M178.8 408.5V409.5M183.2 381.6V391.6M187.7 344.5V349.4M196.7 341.8V344.5M196.7 357.3V370.8M201.1 320.2V323.5M201.1 345.6V351.4M214.6 322.4V327.3M214.6 341.5V347.8M223.5 300.7V315.2M232.5 308.6V316.5M232.5 319.5V323.2M236.9 304.0V304.9M236.9 317.4V323.5M241.4 285.3V297.9M241.4 305.2V312.9M250.4 282.0V285.8M259.3 277.5V282.0M263.8 270.0V276.6M263.8 281.3V285.3M290.6 305.2V309.1M295.1 289.6V295.8M304.1 292.4V296.3M304.1 312.9V323.5M317.5 284.1V290.3M330.9 282.5V296.9M335.4 273.3V275.8M339.9 259.1V264.6M344.3 255.3V257.5M344.3 265.3V268.6M362.2 301.2V307.3M362.2 309.5V319.8M380.1 318.1V321.1M384.6 321.5V338.9M398.0 283.2V285.2M402.5 259.1V267.0M411.5 263.0V269.1M411.5 270.1V276.6M420.4 269.1V277.4M420.4 291.2V299.0M424.9 260.3V264.1M429.4 254.7V257.0M429.4 264.1V267.5M442.8 261.6V264.6M442.8 268.0V289.1M451.7 285.0V292.0M456.2 250.5V261.5M456.2 268.0V269.5M460.7 261.9V270.5M465.2 237.4V239.0M469.6 233.2V236.2M483.1 277.8V282.3M487.5 265.2V267.4M487.5 271.0V278.6M496.5 262.3V264.5M501.0 259.0V262.3M501.0 264.8V271.8M509.9 240.7V242.4M518.9 248.5V251.5M523.3 234.9V236.2M523.3 239.5V246.9M527.8 229.9V231.2M527.8 236.2V241.5M536.8 231.2V233.6M536.8 235.7V243.2M541.2 215.8V216.9M541.2 232.9V237.4M550.2 197.0V201.6M550.2 204.6V206.3M554.7 202.3V208.6M568.1 224.9V226.9M568.1 234.1V235.7M572.6 222.4V226.2M572.6 229.1V235.7M577.0 219.1V221.3M577.0 226.6V233.6M581.5 222.4V230.7M586.0 206.6V214.6M590.5 196.3V200.8M603.9 210.3V212.5M603.9 220.8V223.6M612.8 213.2V215.0M612.8 216.0V227.3M621.8 193.2V199.4M626.3 194.6V196.2M630.7 181.6V182.9M644.2 193.2V194.9M653.1 199.9V201.5M653.1 205.2V214.8M657.6 179.9V184.6M662.1 174.6V183.6M662.1 184.9V192.4M684.4 173.6V176.3M684.4 184.6V186.6M702.3 192.4V195.2M702.3 199.6V211.9M724.7 254.9V259.0M724.7 270.6V277.3M733.7 270.6V278.5M733.7 281.4V289.8M747.1 249.5V258.2M756.0 243.2V246.2M773.9 203.5V205.2M778.4 193.4V196.7M778.4 206.8V208.5M782.9 181.5V186.8M791.8 174.0V181.5M796.3 170.2V177.4M800.8 172.4V174.0M800.8 176.2V179.0M809.7 176.2V178.2M809.7 180.2V187.3M818.7 169.9V181.5M827.6 183.5V191.5M841.1 180.7V183.2M841.1 190.7V196.5M854.5 185.7V188.5M854.5 195.1V200.6M859.0 168.2V173.5M859.0 189.0V194.8M863.4 159.9V169.6M863.4 173.5V179.5M867.9 150.8V152.4M872.4 140.3V146.3" stroke="#111" stroke-width="1" fill="none"/>
<g fill="#fff" stroke="#0a0a0a" stroke-width="1"><rect x="11.62" y="387.8" width="3.1" height="1.2"/><rect x="16.10" y="366.9" width="3.1" height="20.4"/><rect x="25.05" y="321.5" width="3.1" height="46.7"/><rect x="29.53" y="320.6" width="3.1" height="1.7"/><rect x="34.00" y="313.5" width="3.1" height="6.8"/><rect x="38.48" y="301.5" width="3.1" height="11.3"/><rect x="42.95" y="291.9" width="3.1" height="9.3"/><rect x="47.43" y="272.9" width="3.1" height="16.6"/><rect x="56.38" y="269.4" width="3.1" height="3.0"/><rect x="60.85" y="258.0" width="3.1" height="9.4"/><rect x="69.80" y="274.0" width="3.1" height="2.6"/><rect x="78.75" y="264.9" width="3.1" height="15.3"/><rect x="101.13" y="289.5" width="3.1" height="17.3"/><rect x="105.60" y="272.4" width="3.1" height="16.1"/><rect x="114.55" y="276.2" width="3.1" height="7.9"/><rect x="141.40" y="360.2" width="3.1" height="13.8"/><rect x="150.35" y="372.8" width="3.1" height="17.8"/><rect x="163.78" y="439.0" width="3.1" height="11.6"/><rect x="172.73" y="408.5" width="3.1" height="31.0"/><rect x="177.20" y="381.3" width="3.1" height="27.2"/><rect x="181.68" y="380.3" width="3.1" height="1.3"/><rect x="186.15" y="349.4" width="3.1" height="30.9"/><rect x="195.10" y="344.5" width="3.1" height="12.8"/><rect x="199.58" y="323.5" width="3.1" height="22.1"/><rect x="213.00" y="327.3" width="3.1" height="14.2"/><rect x="221.95" y="315.2" width="3.1" height="17.1"/><rect x="230.90" y="316.5" width="3.1" height="3.0"/><rect x="235.38" y="304.9" width="3.1" height="12.5"/><rect x="239.86" y="297.9" width="3.1" height="7.3"/><rect x="248.81" y="285.8" width="3.1" height="36.1"/><rect x="257.76" y="282.0" width="3.1" height="9.3"/><rect x="262.23" y="276.6" width="3.1" height="4.7"/><rect x="289.08" y="309.1" width="3.1" height="28.2"/><rect x="293.56" y="295.8" width="3.1" height="13.3"/><rect x="302.51" y="296.3" width="3.1" height="16.6"/><rect x="315.93" y="290.3" width="3.1" height="13.3"/><rect x="329.36" y="296.9" width="3.1" height="9.4"/><rect x="333.83" y="275.8" width="3.1" height="21.3"/><rect x="338.31" y="264.6" width="3.1" height="11.7"/><rect x="342.78" y="257.5" width="3.1" height="7.8"/><rect x="360.68" y="307.3" width="3.1" height="2.2"/><rect x="365.16" y="279.1" width="3.1" height="28.2"/><rect x="378.58" y="321.1" width="3.1" height="23.3"/><rect x="383.06" y="306.5" width="3.1" height="15.0"/><rect x="387.53" y="281.2" width="3.1" height="25.3"/><rect x="396.48" y="277.4" width="3.1" height="5.8"/><rect x="400.96" y="267.0" width="3.1" height="9.9"/><rect x="409.91" y="269.1" width="3.1" height="1.0"/><rect x="418.86" y="277.4" width="3.1" height="13.8"/><rect x="423.33" y="264.1" width="3.1" height="12.8"/><rect x="427.81" y="257.0" width="3.1" height="7.1"/><rect x="441.23" y="264.6" width="3.1" height="3.4"/><rect x="450.18" y="266.7" width="3.1" height="18.3"/><rect x="454.66" y="261.5" width="3.1" height="6.5"/><rect x="459.13" y="256.4" width="3.1" height="5.5"/><rect x="463.61" y="239.0" width="3.1" height="17.5"/><rect x="468.09" y="236.2" width="3.1" height="3.3"/><rect x="481.51" y="270.5" width="3.1" height="7.3"/><rect x="485.99" y="267.4" width="3.1" height="3.6"/><rect x="494.94" y="264.5" width="3.1" height="24.3"/><rect x="499.41" y="262.3" width="3.1" height="2.5"/><rect x="503.89" y="252.3" width="3.1" height="10.5"/><rect x="508.36" y="242.4" width="3.1" height="10.4"/><rect x="517.31" y="238.5" width="3.1" height="10.0"/><rect x="521.79" y="236.2" width="3.1" height="3.3"/><rect x="526.26" y="231.2" width="3.1" height="5.0"/><rect x="535.21" y="233.6" width="3.1" height="2.1"/><rect x="539.69" y="216.9" width="3.1" height="16.0"/><rect x="544.16" y="204.6" width="3.1" height="12.8"/><rect x="548.64" y="201.6" width="3.1" height="3.0"/><rect x="553.11" y="201.3" width="3.1" height="1.0"/><rect x="566.54" y="226.9" width="3.1" height="7.2"/><rect x="571.01" y="226.2" width="3.1" height="2.9"/><rect x="575.49" y="221.3" width="3.1" height="5.3"/><rect x="579.96" y="207.0" width="3.1" height="15.4"/><rect x="584.44" y="204.6" width="3.1" height="2.0"/><rect x="588.91" y="200.8" width="3.1" height="3.8"/><rect x="602.34" y="212.5" width="3.1" height="8.3"/><rect x="611.29" y="215.0" width="3.1" height="1.0"/><rect x="620.24" y="199.4" width="3.1" height="19.9"/><rect x="624.71" y="196.2" width="3.1" height="4.0"/><rect x="629.19" y="182.9" width="3.1" height="13.3"/><rect x="642.61" y="194.9" width="3.1" height="10.3"/><rect x="651.56" y="201.5" width="3.1" height="3.7"/><rect x="656.04" y="184.6" width="3.1" height="15.6"/><rect x="660.51" y="183.6" width="3.1" height="1.3"/><rect x="664.99" y="172.5" width="3.1" height="11.1"/><rect x="673.94" y="177.5" width="3.1" height="18.7"/><rect x="682.89" y="176.3" width="3.1" height="8.3"/><rect x="700.79" y="195.2" width="3.1" height="4.4"/><rect x="723.17" y="259.0" width="3.1" height="11.6"/><rect x="732.12" y="278.5" width="3.1" height="2.9"/><rect x="741.07" y="261.2" width="3.1" height="29.4"/><rect x="745.54" y="258.2" width="3.1" height="3.3"/><rect x="754.49" y="246.2" width="3.1" height="12.3"/><rect x="758.97" y="236.2" width="3.1" height="9.0"/><rect x="767.92" y="217.4" width="3.1" height="26.1"/><rect x="772.39" y="205.2" width="3.1" height="12.2"/><rect x="776.87" y="196.7" width="3.1" height="10.1"/><rect x="781.34" y="186.8" width="3.1" height="8.8"/><rect x="790.29" y="181.5" width="3.1" height="10.0"/><rect x="794.77" y="177.4" width="3.1" height="3.3"/><rect x="799.24" y="174.0" width="3.1" height="2.2"/><rect x="808.19" y="178.2" width="3.1" height="2.0"/><rect x="817.14" y="181.5" width="3.1" height="2.0"/><rect x="826.09" y="172.4" width="3.1" height="11.1"/><rect x="839.52" y="183.2" width="3.1" height="7.5"/><rect x="852.94" y="188.5" width="3.1" height="6.6"/><rect x="857.42" y="173.5" width="3.1" height="15.5"/><rect x="861.89" y="169.6" width="3.1" height="3.9"/><rect x="866.37" y="152.4" width="3.1" height="16.7"/></g>
<g fill="#d9c93a" stroke="#55500a" stroke-width="0.9"><rect x="870.84" y="146.3" width="3.1" height="7.0"/></g>
<path d="M14.5 138.5V143.5M18.5 138.5V143.5" stroke="#000" stroke-width="1"/><rect x="13.3" y="139.5" width="2.4" height="3" fill="#000"/><rect x="17.3" y="139.5" width="2.4" height="3" fill="#fff" stroke="#000" stroke-width="0.6"/>
<text x="22.9" y="143.1" font-size="7.8" fill="#111" textLength="98.8" lengthAdjust="spacingAndGlyphs">$INDU (Daily) 17313.57</text>
<path d="M62.4 255.8L983.8 125.2" stroke="#f00" stroke-width="1.7" fill="none"/>
<path d="M62.4 255.8L1011.5 315.6" stroke="#000" stroke-width="1.7" fill="none"/>
<path d="M170.2 455.6L1006.8 221.2" stroke="#0a700a" stroke-width="1.7" fill="none"/>
<path d="M876.7 140.3L946 310.2" stroke="#000" stroke-width="1.6" fill="none"/>
<path d="M947.9 314.8L939.9 307.2L948.6 303.7Z" fill="#000"/>
<ellipse cx="944.1" cy="314.8" rx="31.7" ry="8.6" fill="none" stroke="#333" stroke-width="0.9"/>
<text x="53.3" y="167.5" font-size="12" fill="#0000f0" font-weight="bold" textLength="94.2" lengthAdjust="spacingAndGlyphs" stroke="#0000f0" stroke-width="0.3">Marketspath.net</text>
<text x="48.8" y="185" font-size="12" fill="#f00" font-weight="bold" textLength="123.4" lengthAdjust="spacingAndGlyphs" stroke="#f00" stroke-width="0.3">Sentimenttiming.com</text>
<text x="53.8" y="245.2" font-size="13.2" fill="#f00" font-weight="bold" textLength="20.8" lengthAdjust="spacingAndGlyphs" stroke="#f00" stroke-width="0.3">((I))</text>
<text x="135" y="456" font-size="13.2" fill="#f00" font-weight="bold" textLength="24.2" lengthAdjust="spacingAndGlyphs" stroke="#f00" stroke-width="0.3">((II))</text>
<text x="649" y="163.8" font-size="13.2" fill="#f00" font-weight="bold" textLength="28.2" lengthAdjust="spacingAndGlyphs" stroke="#f00" stroke-width="0.3">((III))</text>
<text x="720.4" y="313.6" font-size="13.2" fill="#f00" font-weight="bold" textLength="30.1" lengthAdjust="spacingAndGlyphs" stroke="#f00" stroke-width="0.3">((IV))</text>
<text x="859" y="133.8" font-size="13.2" fill="#f00" font-weight="bold" textLength="27" lengthAdjust="spacingAndGlyphs" stroke="#f00" stroke-width="0.3">((V))</text>
<text x="927" y="339.7" font-size="11.5" fill="#f00" font-weight="bold" textLength="63" lengthAdjust="spacingAndGlyphs" stroke="#f00" stroke-width="0.3">Target zone</text>
<text x="738" y="48.7" font-size="11.5" fill="#f00" font-weight="bold" textLength="112" lengthAdjust="spacingAndGlyphs" stroke="#f00" stroke-width="0.3">Bearish Divergences</text>
<path d="M778.7 56L884 70" stroke="#f00" stroke-width="1.8" fill="none"/>
<path d="M890.8 71.8L881.2 75.2L882.4 67Z" fill="#f00"/>
<text x="18.1" y="469.9" font-size="7.6" fill="#eef2f8" text-anchor="middle" stroke="#eef2f8" stroke-width="0.25">16</text>
<text x="40.5" y="469.9" font-size="7.6" fill="#eef2f8" text-anchor="middle" stroke="#eef2f8" stroke-width="0.25">23</text>
<text x="67.3" y="469.9" font-size="8.0" fill="#fff" text-anchor="middle" font-weight="bold">2014</text>
<text x="98.6" y="469.9" font-size="7.6" fill="#eef2f8" text-anchor="middle" stroke="#eef2f8" stroke-width="0.25">13</text>
<text x="120.9" y="469.9" font-size="7.6" fill="#eef2f8" text-anchor="middle" stroke="#eef2f8" stroke-width="0.25">21</text>
<text x="138.8" y="469.9" font-size="7.6" fill="#eef2f8" text-anchor="middle" stroke="#eef2f8" stroke-width="0.25">27</text>
<text x="161.2" y="469.9" font-size="8.0" fill="#fff" text-anchor="middle" font-weight="bold">Feb</text>
<text x="183.5" y="469.9" font-size="7.6" fill="#eef2f8" text-anchor="middle" stroke="#eef2f8" stroke-width="0.25">10</text>
<text x="205.9" y="469.9" font-size="7.6" fill="#eef2f8" text-anchor="middle" stroke="#eef2f8" stroke-width="0.25">18</text>
<text x="223.7" y="469.9" font-size="7.6" fill="#eef2f8" text-anchor="middle" stroke="#eef2f8" stroke-width="0.25">24</text>
<text x="246.1" y="469.9" font-size="8.0" fill="#fff" text-anchor="middle" font-weight="bold">Mar</text>
<text x="268.4" y="469.9" font-size="7.6" fill="#eef2f8" text-anchor="middle" stroke="#eef2f8" stroke-width="0.25">10</text>
<text x="290.8" y="469.9" font-size="7.6" fill="#eef2f8" text-anchor="middle" stroke="#eef2f8" stroke-width="0.25">17</text>
<text x="313.1" y="469.9" font-size="7.6" fill="#eef2f8" text-anchor="middle" stroke="#eef2f8" stroke-width="0.25">24</text>
<text x="339.9" y="469.9" font-size="8.0" fill="#fff" text-anchor="middle" font-weight="bold">Apr</text>
<text x="357.8" y="469.9" font-size="7.6" fill="#eef2f8" text-anchor="middle" stroke="#eef2f8" stroke-width="0.25">7</text>
<text x="380.1" y="469.9" font-size="7.6" fill="#eef2f8" text-anchor="middle" stroke="#eef2f8" stroke-width="0.25">14</text>
<text x="398.0" y="469.9" font-size="7.6" fill="#eef2f8" text-anchor="middle" stroke="#eef2f8" stroke-width="0.25">21</text>
<text x="420.4" y="469.9" font-size="7.6" fill="#eef2f8" text-anchor="middle" stroke="#eef2f8" stroke-width="0.25">28</text>
<text x="433.8" y="469.9" font-size="8.0" fill="#fff" text-anchor="middle" font-weight="bold">May</text>
<text x="465.1" y="469.9" font-size="7.6" fill="#eef2f8" text-anchor="middle" stroke="#eef2f8" stroke-width="0.25">12</text>
<text x="487.4" y="469.9" font-size="7.6" fill="#eef2f8" text-anchor="middle" stroke="#eef2f8" stroke-width="0.25">19</text>
<text x="509.8" y="469.9" font-size="7.6" fill="#eef2f8" text-anchor="middle" stroke="#eef2f8" stroke-width="0.25">27</text>
<text x="527.6" y="469.9" font-size="8.0" fill="#fff" text-anchor="middle" font-weight="bold">Jun</text>
<text x="550.0" y="469.9" font-size="7.6" fill="#eef2f8" text-anchor="middle" stroke="#eef2f8" stroke-width="0.25">9</text>
<text x="572.3" y="469.9" font-size="7.6" fill="#eef2f8" text-anchor="middle" stroke="#eef2f8" stroke-width="0.25">16</text>
<text x="594.7" y="469.9" font-size="7.6" fill="#eef2f8" text-anchor="middle" stroke="#eef2f8" stroke-width="0.25">23</text>
<text x="621.5" y="469.9" font-size="8.0" fill="#fff" text-anchor="middle" font-weight="bold">Jul</text>
<text x="634.9" y="469.9" font-size="7.6" fill="#eef2f8" text-anchor="middle" stroke="#eef2f8" stroke-width="0.25">7</text>
<text x="657.2" y="469.9" font-size="7.6" fill="#eef2f8" text-anchor="middle" stroke="#eef2f8" stroke-width="0.25">14</text>
<text x="679.6" y="469.9" font-size="7.6" fill="#eef2f8" text-anchor="middle" stroke="#eef2f8" stroke-width="0.25">21</text>
<text x="701.9" y="469.9" font-size="7.6" fill="#eef2f8" text-anchor="middle" stroke="#eef2f8" stroke-width="0.25">28</text>
<text x="719.8" y="469.9" font-size="8.0" fill="#fff" text-anchor="middle" font-weight="bold">Aug</text>
<text x="746.6" y="469.9" font-size="7.6" fill="#eef2f8" text-anchor="middle" stroke="#eef2f8" stroke-width="0.25">11</text>
<text x="769.0" y="469.9" font-size="7.6" fill="#eef2f8" text-anchor="middle" stroke="#eef2f8" stroke-width="0.25">18</text>
<text x="791.3" y="469.9" font-size="7.6" fill="#eef2f8" text-anchor="middle" stroke="#eef2f8" stroke-width="0.25">25</text>
<text x="813.6" y="469.9" font-size="8.0" fill="#fff" text-anchor="middle" font-weight="bold">Sep</text>
<text x="831.5" y="469.9" font-size="7.6" fill="#eef2f8" text-anchor="middle" stroke="#eef2f8" stroke-width="0.25">8</text>
<text x="853.9" y="469.9" font-size="7.6" fill="#eef2f8" text-anchor="middle" stroke="#eef2f8" stroke-width="0.25">15</text>
<text x="876.2" y="469.9" font-size="7.6" fill="#eef2f8" text-anchor="middle" stroke="#eef2f8" stroke-width="0.25">22</text>
<text x="907.5" y="469.9" font-size="8.0" fill="#fff" text-anchor="middle" font-weight="bold">Oct</text>
<text x="920.9" y="469.9" font-size="7.6" fill="#eef2f8" text-anchor="middle" stroke="#eef2f8" stroke-width="0.25">6</text>
<text x="943.3" y="469.9" font-size="7.6" fill="#eef2f8" text-anchor="middle" stroke="#eef2f8" stroke-width="0.25">13</text>
<text x="965.6" y="469.9" font-size="7.6" fill="#eef2f8" text-anchor="middle" stroke="#eef2f8" stroke-width="0.25">20</text>
<text x="987.9" y="469.9" font-size="7.6" fill="#eef2f8" text-anchor="middle" stroke="#eef2f8" stroke-width="0.25">27</text>
<text x="18.1" y="595.0" font-size="7.6" fill="#eef2f8" text-anchor="middle" stroke="#eef2f8" stroke-width="0.25">16</text>
<text x="40.5" y="595.0" font-size="7.6" fill="#eef2f8" text-anchor="middle" stroke="#eef2f8" stroke-width="0.25">23</text>
<text x="67.3" y="595.0" font-size="8.0" fill="#fff" text-anchor="middle" font-weight="bold">2014</text>
<text x="98.6" y="595.0" font-size="7.6" fill="#eef2f8" text-anchor="middle" stroke="#eef2f8" stroke-width="0.25">13</text>
<text x="120.9" y="595.0" font-size="7.6" fill="#eef2f8" text-anchor="middle" stroke="#eef2f8" stroke-width="0.25">21</text>
<text x="138.8" y="595.0" font-size="7.6" fill="#eef2f8" text-anchor="middle" stroke="#eef2f8" stroke-width="0.25">27</text>
<text x="161.2" y="595.0" font-size="8.0" fill="#fff" text-anchor="middle" font-weight="bold">Feb</text>
<text x="183.5" y="595.0" font-size="7.6" fill="#eef2f8" text-anchor="middle" stroke="#eef2f8" stroke-width="0.25">10</text>
<text x="205.9" y="595.0" font-size="7.6" fill="#eef2f8" text-anchor="middle" stroke="#eef2f8" stroke-width="0.25">18</text>
<text x="223.7" y="595.0" font-size="7.6" fill="#eef2f8" text-anchor="middle" stroke="#eef2f8" stroke-width="0.25">24</text>
<text x="246.1" y="595.0" font-size="8.0" fill="#fff" text-anchor="middle" font-weight="bold">Mar</text>
<text x="268.4" y="595.0" font-size="7.6" fill="#eef2f8" text-anchor="middle" stroke="#eef2f8" stroke-width="0.25">10</text>
<text x="290.8" y="595.0" font-size="7.6" fill="#eef2f8" text-anchor="middle" stroke="#eef2f8" stroke-width="0.25">17</text>
<text x="313.1" y="595.0" font-size="7.6" fill="#eef2f8" text-anchor="middle" stroke="#eef2f8" stroke-width="0.25">24</text>
<text x="339.9" y="595.0" font-size="8.0" fill="#fff" text-anchor="middle" font-weight="bold">Apr</text>
<text x="357.8" y="595.0" font-size="7.6" fill="#eef2f8" text-anchor="middle" stroke="#eef2f8" stroke-width="0.25">7</text>
<text x="380.1" y="595.0" font-size="7.6" fill="#eef2f8" text-anchor="middle" stroke="#eef2f8" stroke-width="0.25">14</text>
<text x="398.0" y="595.0" font-size="7.6" fill="#eef2f8" text-anchor="middle" stroke="#eef2f8" stroke-width="0.25">21</text>
<text x="420.4" y="595.0" font-size="7.6" fill="#eef2f8" text-anchor="middle" stroke="#eef2f8" stroke-width="0.25">28</text>
<text x="433.8" y="595.0" font-size="8.0" fill="#fff" text-anchor="middle" font-weight="bold">May</text>
<text x="465.1" y="595.0" font-size="7.6" fill="#eef2f8" text-anchor="middle" stroke="#eef2f8" stroke-width="0.25">12</text>
<text x="487.4" y="595.0" font-size="7.6" fill="#eef2f8" text-anchor="middle" stroke="#eef2f8" stroke-width="0.25">19</text>
<text x="509.8" y="595.0" font-size="7.6" fill="#eef2f8" text-anchor="middle" stroke="#eef2f8" stroke-width="0.25">27</text>
<text x="527.6" y="595.0" font-size="8.0" fill="#fff" text-anchor="middle" font-weight="bold">Jun</text>
<text x="550.0" y="595.0" font-size="7.6" fill="#eef2f8" text-anchor="middle" stroke="#eef2f8" stroke-width="0.25">9</text>
<text x="572.3" y="595.0" font-size="7.6" fill="#eef2f8" text-anchor="middle" stroke="#eef2f8" stroke-width="0.25">16</text>
<text x="594.7" y="595.0" font-size="7.6" fill="#eef2f8" text-anchor="middle" stroke="#eef2f8" stroke-width="0.25">23</text>
<text x="621.5" y="595.0" font-size="8.0" fill="#fff" text-anchor="middle" font-weight="bold">Jul</text>
<text x="634.9" y="595.0" font-size="7.6" fill="#eef2f8" text-anchor="middle" stroke="#eef2f8" stroke-width="0.25">7</text>
<text x="657.2" y="595.0" font-size="7.6" fill="#eef2f8" text-anchor="middle" stroke="#eef2f8" stroke-width="0.25">14</text>
<text x="679.6" y="595.0" font-size="7.6" fill="#eef2f8" text-anchor="middle" stroke="#eef2f8" stroke-width="0.25">21</text>
<text x="701.9" y="595.0" font-size="7.6" fill="#eef2f8" text-anchor="middle" stroke="#eef2f8" stroke-width="0.25">28</text>
<text x="719.8" y="595.0" font-size="8.0" fill="#fff" text-anchor="middle" font-weight="bold">Aug</text>
<text x="746.6" y="595.0" font-size="7.6" fill="#eef2f8" text-anchor="middle" stroke="#eef2f8" stroke-width="0.25">11</text>
<text x="769.0" y="595.0" font-size="7.6" fill="#eef2f8" text-anchor="middle" stroke="#eef2f8" stroke-width="0.25">18</text>
<text x="791.3" y="595.0" font-size="7.6" fill="#eef2f8" text-anchor="middle" stroke="#eef2f8" stroke-width="0.25">25</text>
<text x="813.6" y="595.0" font-size="8.0" fill="#fff" text-anchor="middle" font-weight="bold">Sep</text>
<text x="831.5" y="595.0" font-size="7.6" fill="#eef2f8" text-anchor="middle" stroke="#eef2f8" stroke-width="0.25">8</text>
<text x="853.9" y="595.0" font-size="7.6" fill="#eef2f8" text-anchor="middle" stroke="#eef2f8" stroke-width="0.25">15</text>
<text x="876.2" y="595.0" font-size="7.6" fill="#eef2f8" text-anchor="middle" stroke="#eef2f8" stroke-width="0.25">22</text>
<text x="907.5" y="595.0" font-size="8.0" fill="#fff" text-anchor="middle" font-weight="bold">Oct</text>
<text x="920.9" y="595.0" font-size="7.6" fill="#eef2f8" text-anchor="middle" stroke="#eef2f8" stroke-width="0.25">6</text>
<text x="943.3" y="595.0" font-size="7.6" fill="#eef2f8" text-anchor="middle" stroke="#eef2f8" stroke-width="0.25">13</text>
<text x="965.6" y="595.0" font-size="7.6" fill="#eef2f8" text-anchor="middle" stroke="#eef2f8" stroke-width="0.25">20</text>
<text x="987.9" y="595.0" font-size="7.6" fill="#eef2f8" text-anchor="middle" stroke="#eef2f8" stroke-width="0.25">27</text>
<path d="M11.5 498.8H1011.5M11.5 561.3H1011.5" stroke="#4a4a4a" stroke-width="1.3" fill="none"/>
<path d="M11.5 529.5H1011.5" stroke="#111" stroke-width="1" stroke-dasharray="7 2.5 2 2.5" fill="none"/>
<polyline fill="none" stroke="#8c3f58" stroke-width="0.95" stroke-linejoin="round" points="10.0,547.5 11.9,549.4 14.8,557.0 17.6,562.4 22.4,560.9 27.2,545.6 32.0,522.7 36.7,499.7 41.5,487.3 46.3,482.9 52.0,481.6 59.7,481.0 65.4,482.6 71.1,486.4 76.9,491.1 82.6,492.1 88.3,493.6 93.1,498.8 97.9,512.2 103.6,529.4 108.4,537.9 112.2,536.0 117.0,528.4 121.7,523.6 125.6,524.2 129.4,532.2 134.2,546.5 138.9,560.9 143.7,570.8 148.5,572.7 153.3,570.4 158.0,570.4 162.8,571.4 168.5,573.7 173.3,573.3 178.1,566.6 183.8,553.2 191.5,534.1 198.2,513.1 200.0,507.4 205.7,491.1 210.5,486.0 215.3,486.8 220.1,490.6 224.8,491.1 229.6,490.6 234.4,489.8 239.2,489.2 243.9,489.2 249.7,493.1 255.4,495.9 260.2,493.1 264.9,489.2 268.8,487.3 272.6,490.6 277.4,498.8 282.1,513.1 286.9,534.1 291.7,550.4 295.5,553.2 299.3,544.6 304.1,533.2 308.9,528.4 313.7,525.5 318.4,524.2 323.2,523.0 328.0,523.0 332.8,520.8 337.5,513.1 342.3,501.7 347.1,491.1 350.9,486.8 353.8,487.9 357.6,499.7 362.4,521.7 367.1,538.9 371.9,549.0 376.7,556.1 380.5,561.8 384.3,562.4 388.2,557.0 392.9,544.6 397.7,528.4 400.0,520.8 404.8,511.2 409.6,505.1 414.3,502.6 419.1,503.0 424.8,503.6 429.6,495.9 434.4,489.2 438.2,486.8 442.4,488.3 446.8,497.8 451.6,507.0 456.4,514.6 460.2,512.7 464.9,504.5 469.7,493.1 474.5,489.8 478.3,495.9 483.1,512.2 487.9,529.4 492.6,543.3 497.4,547.9 501.2,548.5 505.1,539.9 509.8,527.4 514.6,514.6 519.4,503.6 524.2,496.3 528.9,490.6 533.7,486.4 538.5,483.9 543.3,483.5 548.0,482.2 552.8,481.0 556.6,481.6 560.5,486.4 564.3,495.9 569.1,510.2 573.8,523.0 577.7,529.9 581.1,529.4 585.3,520.8 590.1,508.3 594.8,498.8 598.7,497.8 600.0,498.2 604.2,505.5 608.6,517.9 613.4,523.6 618.1,526.9 622.0,523.6 626.4,516.6 630.6,504.5 635.0,493.1 639.7,491.1 643.9,498.8 648.7,511.2 653.5,516.0 657.3,517.3 662.1,510.2 666.9,499.7 671.6,495.5 676.0,495.5 681.2,502.6 685.0,502.0 688.8,501.7 693.2,497.5 697.4,500.7 702.2,509.3 707.0,523.6 711.7,537.9 716.5,552.3 721.3,562.8 725.1,570.4 729.9,571.4 734.7,570.4 739.4,570.8 744.2,569.5 749.0,565.1 753.8,557.0 758.5,549.4 763.3,541.8 768.1,534.1 772.9,523.6 777.7,507.4 780.0,500.7 783.8,491.1 787.6,484.1 792.4,483.9 797.2,484.8 802.0,484.5 806.7,485.0 811.5,486.4 816.3,488.7 821.1,490.6 825.8,491.1 830.6,490.6 834.4,493.1 838.3,500.7 843.0,515.0 847.8,528.4 852.6,537.9 856.4,541.2 859.3,539.9 863.7,527.4 867.9,512.2 872.1,498.2"/>
<polyline fill="none" stroke="#1a3654" stroke-width="1.15" stroke-linejoin="round" points="10.0,557.0 11.9,566.6 13.8,570.8 17.6,562.8 22.4,552.3 27.2,522.7 32.0,499.7 36.2,483.5 40.6,484.5 44.4,483.5 49.2,479.7 54.9,481.0 61.6,481.6 67.3,486.4 72.1,490.6 75.9,495.0 79.7,491.7 84.5,493.1 89.3,496.3 94.0,509.3 98.8,532.2 103.2,543.7 107.4,541.4 112.2,527.4 116.6,518.5 120.8,525.5 125.6,529.4 129.4,544.6 134.2,561.8 138.9,574.2 143.7,572.3 147.5,571.4 152.3,567.6 156.1,570.8 160.9,571.9 165.7,575.2 170.5,575.2 174.3,568.5 179.1,557.0 185.7,537.9 191.5,520.8 197.2,497.8 200.0,492.1 205.3,481.6 209.6,487.9 214.3,490.2 219.1,493.1 223.9,489.8 228.7,490.6 233.4,489.2 238.2,487.9 241.6,487.3 246.8,497.5 250.6,497.5 255.0,496.3 259.6,485.4 264.0,486.8 268.4,489.2 272.6,497.8 277.4,507.4 282.1,534.1 286.9,555.5 291.1,561.8 295.5,545.6 299.3,532.2 303.7,525.0 307.9,528.0 312.7,523.6 317.1,521.3 321.3,523.0 326.1,522.7 330.9,524.2 335.6,508.3 340.4,493.1 344.8,482.9 349.0,482.9 353.8,495.9 358.5,526.5 362.4,546.5 367.1,546.5 371.9,553.2 375.7,559.0 380.5,570.4 384.9,557.0 389.1,536.0 393.9,522.7 398.7,512.2 400.0,510.2 403.8,506.4 407.6,502.0 411.8,499.4 416.2,505.5 420.6,505.5 424.8,501.3 429.0,487.9 433.4,483.9 437.8,487.3 442.0,493.1 446.8,511.2 451.2,516.6 455.8,518.8 460.2,503.6 464.6,492.1 469.1,485.4 473.5,489.8 478.3,514.1 483.1,534.1 487.9,544.6 492.3,552.3 496.5,547.1 500.9,544.1 505.1,525.5 509.8,512.2 514.6,503.6 518.8,496.3 523.8,491.1 528.0,483.9 532.8,483.9 537.5,483.5 542.3,482.6 547.1,480.6 551.9,480.1 555.7,481.6 559.5,492.1 563.9,509.3 568.1,524.6 572.5,534.5 576.7,531.3 581.1,518.8 585.3,507.4 590.1,494.4 594.5,492.1 598.7,505.5 600.0,507.4 604.2,518.8 608.2,528.8 612.8,524.2 617.2,529.4 622.0,517.9 626.7,503.6 630.6,486.8 635.3,486.8 640.1,501.7 644.9,512.2 649.1,521.7 653.5,517.9 658.3,511.2 662.7,499.7 666.9,486.8 671.1,498.8 676.0,499.4 680.2,508.9 684.6,497.5 688.8,498.2 693.2,495.5 697.4,509.3 702.2,520.8 706.6,537.0 710.8,546.5 715.6,564.3 720.3,572.3 725.1,572.3 729.5,569.8 733.7,569.5 738.1,574.2 742.3,567.6 747.1,559.9 751.9,551.7 756.6,545.6 761.0,538.9 765.2,533.2 770.0,518.8 774.8,502.6 779.0,487.3 783.4,481.6 787.6,483.9 791.8,484.8 796.2,484.8 801.0,483.9 805.8,485.4 809.6,486.8 814.4,490.6 818.2,490.6 822.6,492.5 827.4,489.8 831.6,490.6 835.4,501.7 840.2,517.9 844.9,534.1 849.7,542.7 854.1,545.6 858.7,528.4 863.1,509.3 867.5,492.1 872.1,489.8"/>
<ellipse cx="877" cy="494" rx="22.9" ry="14" fill="none" stroke="#e22" stroke-width="1"/>
</svg></body></html>
